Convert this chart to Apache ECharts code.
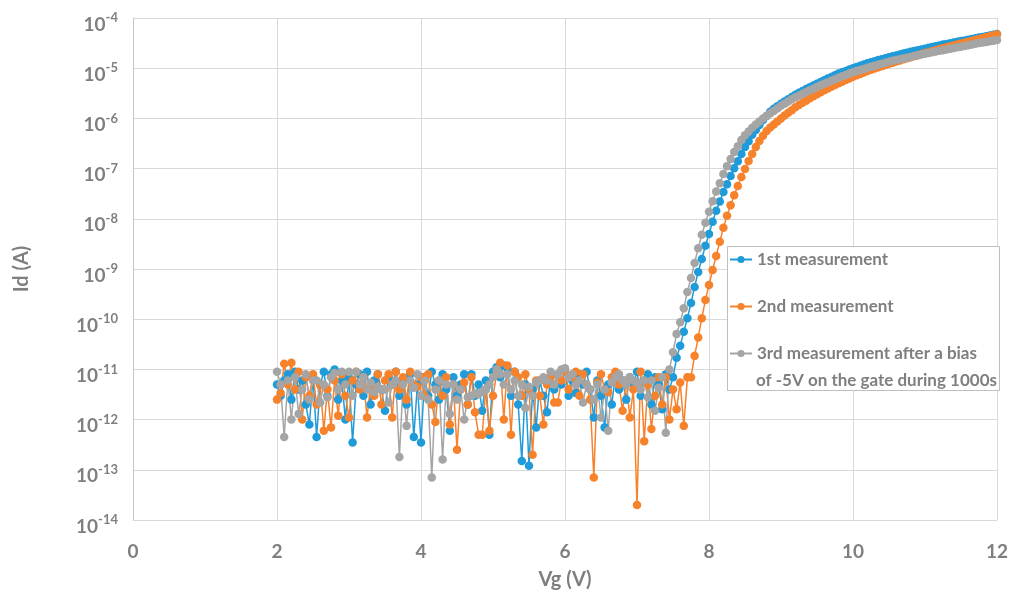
<!DOCTYPE html>
<html>
<head>
<meta charset="utf-8">
<script src="https://cdn.jsdelivr.net/npm/echarts@6/dist/echarts.min.js"></script>
<style>
html,body{margin:0;padding:0;background:#fff;}
#chart{width:1012px;height:600px;}
</style>
</head>
<body>
<div id="chart"></div>
<script>
// Gate voltage sweep (V)
const vg = [
2,2.05,2.1,2.15,2.2,2.25,2.3,2.35,2.4,2.45,2.5,2.55,2.6,2.65,2.7,2.75,2.8,2.85,2.9,2.95,
3,3.05,3.1,3.15,3.2,3.25,3.3,3.35,3.4,3.45,3.5,3.55,3.6,3.65,3.7,3.75,3.8,3.85,3.9,3.95,
4,4.05,4.1,4.15,4.2,4.25,4.3,4.35,4.4,4.45,4.5,4.55,4.6,4.65,4.7,4.75,4.8,4.85,4.9,4.95,
5,5.05,5.1,5.15,5.2,5.25,5.3,5.35,5.4,5.45,5.5,5.55,5.6,5.65,5.7,5.75,5.8,5.85,5.9,5.95,
6,6.05,6.1,6.15,6.2,6.25,6.3,6.35,6.4,6.45,6.5,6.55,6.6,6.65,6.7,6.75,6.8,6.85,6.9,6.95,
7,7.05,7.1,7.15,7.2,7.25,7.3,7.35,7.4,7.45,7.5,7.55,7.6,7.65,7.7,7.75,7.8,7.85,7.9,7.95,
8,8.05,8.1,8.15,8.2,8.25,8.3,8.35,8.4,8.45,8.5,8.55,8.6,8.65,8.7,8.75,8.8,8.85,8.9,8.95,
9,9.05,9.1,9.15,9.2,9.25,9.3,9.35,9.4,9.45,9.5,9.55,9.6,9.65,9.7,9.75,9.8,9.85,9.9,9.95,
10,10.05,10.1,10.15,10.2,10.25,10.3,10.35,10.4,10.45,10.5,10.55,10.6,10.65,10.7,10.75,10.8,10.85,10.9,10.95,
11,11.05,11.1,11.15,11.2,11.25,11.3,11.35,11.4,11.45,11.5,11.55,11.6,11.65,11.7,11.75,11.8,11.85,11.9,11.95,
12];

// Id (A), 1st measurement
const id1 = [
5e-12,3e-12,6e-12,8e-12,2.5e-12,9e-12,4e-12,6e-12,2e-12,8e-13,
7e-12,4.5e-13,5e-12,9e-12,3e-12,8e-12,1e-11,2.5e-12,6e-12,1e-12,
7e-12,3.5e-13,5e-12,8e-12,3e-12,9e-12,2e-12,6e-12,8e-12,4e-12,
1.5e-12,7e-12,5e-12,9e-12,3e-12,6e-12,2e-12,8e-12,4.5e-13,5e-12,
3.5e-13,7e-12,3e-12,9e-12,5e-12,2.5e-12,8e-12,4e-12,6e-13,7e-12,
3e-12,5e-12,8e-12,2e-12,8e-12,3e-12,5e-12,1.5e-12,6e-12,5e-13,
9e-12,1.1e-11,7e-12,1.2e-11,1.05e-11,3e-12,9e-12,2e-12,1.5e-13,5e-12,
1.2e-13,4e-12,7e-13,6e-12,3e-12,1.4e-12,7e-12,4e-12,8e-12,5e-12,
9e-12,3e-12,6e-12,3.4e-12,8e-12,5e-12,9e-12,4e-12,1.1e-12,6e-12,
3e-12,7e-13,5e-12,2e-12,8e-12,4e-12,6e-12,2.5e-12,7e-12,5e-12,
9e-12,3e-12,6e-12,8e-12,2e-12,7e-12,5e-12,1.6e-12,8e-12,4e-12,
7e-12,1.7e-11,2.95e-11,5.6e-11,1.05e-10,2.1e-10,4.4e-10,8.7e-10,1.58e-9,2.9e-9,
5e-9,8.7e-9,1.45e-8,2.2e-8,3.4e-8,4.9e-8,7.1e-8,1.02e-7,1.4e-7,1.95e-7,
2.7e-7,3.5e-7,4.7e-7,5.9e-7,7.4e-7,9.3e-7,1.12e-6,1.35e-6,1.55e-6,1.74e-6,
1.95e-6,2.16e-6,2.4e-6,2.66e-6,2.95e-6,3.24e-6,3.5e-6,3.85e-6,4.17e-6,4.5e-6,
4.9e-6,5.3e-6,5.75e-6,6.2e-6,6.7e-6,7.2e-6,7.8e-6,8.3e-6,8.8e-6,9.4e-6,
1e-5,1.06e-5,1.12e-5,1.18e-5,1.25e-5,1.32e-5,1.38e-5,1.45e-5,1.51e-5,1.58e-5,
1.66e-5,1.73e-5,1.8e-5,1.88e-5,1.96e-5,2.04e-5,2.12e-5,2.2e-5,2.28e-5,2.37e-5,
2.45e-5,2.55e-5,2.64e-5,2.74e-5,2.84e-5,2.95e-5,3.05e-5,3.15e-5,3.25e-5,3.36e-5,
3.47e-5,3.58e-5,3.7e-5,3.82e-5,3.94e-5,4.07e-5,4.2e-5,4.35e-5,4.49e-5,4.63e-5,
4.79e-5];

// Id (A), 2nd measurement
const id2 = [
2.5e-12,3.4e-12,1.3e-11,5e-12,1.35e-11,4e-12,9e-12,1e-12,7e-12,3e-12,
8e-12,2e-12,5e-12,6e-13,4e-12,7e-13,6e-12,1.2e-12,8e-12,3e-12,
1.1e-12,6e-12,9e-12,4e-12,7e-12,1.1e-12,5e-12,3e-12,8e-12,2e-12,
6e-12,8e-12,1.1e-12,9e-12,4e-12,7e-12,2.5e-12,9e-12,5e-12,4.5e-12,
7e-12,3e-12,8e-12,2e-12,9e-13,6e-12,3e-12,7e-12,8e-13,5e-12,
2.5e-13,4e-12,5.5e-12,2e-12,7e-12,1.4e-12,5e-13,5e-13,4e-12,6e-13,
3e-12,8e-12,1.35e-11,1e-12,1.2e-11,5e-13,9e-12,7e-12,3e-12,8e-12,
4e-12,2e-13,6e-12,3e-12,8e-13,5e-12,7e-12,2.2e-12,2.2e-12,6e-12,
9e-12,4e-12,7e-12,9e-12,3e-12,8e-12,5e-12,2.5e-12,7e-14,5.5e-12,
8e-12,4e-12,3.5e-12,7e-12,9e-12,5e-12,1.5e-12,6e-12,1.1e-12,4e-12,
2e-14,9e-12,3.7e-13,5e-12,6.5e-13,3e-12,7e-12,2e-12,7e-12,1e-12,
4e-12,1.6e-12,5.5e-12,7.5e-13,7e-12,7e-12,1.86e-11,4.3e-11,1.05e-10,2.4e-10,
4.8e-10,9.5e-10,1.82e-9,3.5e-9,6.6e-9,1.15e-8,1.86e-8,2.95e-8,4.5e-8,6.8e-8,
9.8e-8,1.41e-7,1.95e-7,2.7e-7,3.55e-7,4.5e-7,5.6e-7,6.6e-7,7.6e-7,8.7e-7,
1e-6,1.14e-6,1.29e-6,1.46e-6,1.66e-6,1.84e-6,2.04e-6,2.26e-6,2.51e-6,2.75e-6,
3.02e-6,3.31e-6,3.63e-6,3.94e-6,4.27e-6,4.62e-6,5.01e-6,5.4e-6,5.82e-6,6.27e-6,
6.76e-6,7.21e-6,7.69e-6,8.2e-6,8.75e-6,9.33e-6,9.86e-6,1.04e-5,1.1e-5,1.16e-5,
1.23e-5,1.29e-5,1.36e-5,1.43e-5,1.51e-5,1.58e-5,1.66e-5,1.74e-5,1.82e-5,1.91e-5,
2e-5,2.09e-5,2.19e-5,2.29e-5,2.4e-5,2.51e-5,2.62e-5,2.73e-5,2.84e-5,2.96e-5,
3.09e-5,3.22e-5,3.36e-5,3.5e-5,3.65e-5,3.8e-5,3.96e-5,4.13e-5,4.31e-5,4.49e-5,
4.68e-5];

// Id (A), 3rd measurement after a bias of -5V on the gate during 1000s
const id3 = [
9e-12,5e-12,4.5e-13,6e-12,1e-12,7e-12,1.3e-12,4e-12,8e-12,2.5e-12,
6e-12,6e-12,2.2e-12,5e-12,2.8e-12,7e-12,8.5e-12,4e-12,9e-12,5e-12,
9e-12,3e-12,9e-12,5e-12,7e-12,4e-12,5.5e-12,3.5e-12,4.5e-12,4e-12,
4e-12,2.2e-12,5e-12,6e-12,1.8e-13,5e-12,7.5e-13,6e-12,4.3e-12,8e-12,
3e-12,6e-12,2.5e-12,7e-14,4e-12,6e-12,1.6e-13,5e-12,1.3e-12,5e-12,
2.5e-12,4e-12,1e-12,2.8e-12,3e-12,3.3e-12,3.2e-12,3.6e-12,4e-12,5e-12,
7e-12,1e-11,8e-12,5e-12,8e-12,4e-12,6e-12,3e-12,5e-12,1.7e-12,
4.5e-12,3e-12,5.5e-12,6e-12,7e-12,6e-12,9e-12,5e-12,8e-12,1e-11,
1.05e-11,7e-12,8e-12,5e-12,6e-12,2.2e-12,5e-12,4e-12,2.5e-12,5e-12,
1.1e-12,4e-12,6e-13,5.5e-12,7e-12,8e-12,6e-12,5e-12,7e-12,6e-12,
5.5e-12,4e-12,6e-12,2.8e-12,6e-12,1.5e-12,4.3e-12,7e-12,5.5e-13,1e-11,
2.2e-11,5.1e-11,8.7e-11,1.66e-10,3.5e-10,6.6e-10,1.32e-9,2.6e-9,4.8e-9,8.3e-9,
1.38e-8,2.24e-8,3.5e-8,5.1e-8,7.8e-8,1.12e-7,1.55e-7,2.14e-7,2.8e-7,3.7e-7,
4.6e-7,5.5e-7,6.5e-7,7.6e-7,8.7e-7,1e-6,1.12e-6,1.26e-6,1.41e-6,1.58e-6,
1.78e-6,1.95e-6,2.16e-6,2.4e-6,2.63e-6,2.85e-6,3.09e-6,3.35e-6,3.63e-6,3.89e-6,
4.22e-6,4.57e-6,4.9e-6,5.25e-6,5.62e-6,6.03e-6,6.46e-6,6.92e-6,7.33e-6,7.85e-6,
8.32e-6,8.75e-6,9.2e-6,9.68e-6,1.02e-5,1.07e-5,1.12e-5,1.17e-5,1.23e-5,1.29e-5,
1.35e-5,1.4e-5,1.45e-5,1.51e-5,1.56e-5,1.62e-5,1.68e-5,1.75e-5,1.81e-5,1.88e-5,
1.95e-5,2.01e-5,2.08e-5,2.15e-5,2.22e-5,2.29e-5,2.37e-5,2.44e-5,2.52e-5,2.61e-5,
2.69e-5,2.78e-5,2.87e-5,2.96e-5,3.06e-5,3.16e-5,3.25e-5,3.34e-5,3.44e-5,3.53e-5,
3.63e-5];

const seriesNames = [
  '1st measurement',
  '2nd measurement',
  '3rd measurement after a bias of -5V on the gate during 1000s'
];
const legendLines = {
  '1st measurement': '1st measurement',
  '2nd measurement': '2nd measurement',
  '3rd measurement after a bias of -5V on the gate during 1000s': '3rd measurement after a bias'
};
const legendContinuation = 'of -5V on the gate during 1000s';
const xTitle = 'Vg (V)';
const yTitle = 'Id (A)';

const FONT = 'Lato';
const TXT = '#7f7f7f';
const colors = ['#1f9bd9', '#f7822c', '#a5a5a5'];

function pairs(ys) { return vg.map((v, i) => [v, ys[i]]); }

const chart = echarts.init(document.getElementById('chart'), null, {renderer: 'canvas'});
const mk = (name, ys, c) => ({
  name: name, type: 'line', data: pairs(ys),
  symbol: 'circle', symbolSize: 8.5, showSymbol: true,
  lineStyle: {color: c, width: 1.5},
  itemStyle: {color: c},
  emphasis: {disabled: true},
  animation: false
});

chart.setOption({
  animation: false,
  backgroundColor: '#ffffff',
  color: colors,
  grid: {left: 133, right: 15, top: 18, bottom: 80},
  xAxis: {
    type: 'value', min: 0, max: 12, interval: 2,
    name: xTitle, nameLocation: 'middle', nameGap: 50,
    nameTextStyle: {fontSize: 20, fontWeight: 'bold', color: TXT, fontFamily: FONT},
    axisLabel: {fontSize: 19, fontWeight: 'bold', color: TXT, fontFamily: FONT, margin: 22},
    axisLine: {onZero: false, lineStyle: {color: '#d9d9d9', width: 1}},
    axisTick: {show: false},
    splitLine: {show: true, lineStyle: {color: '#d9d9d9', width: 1}}
  },
  yAxis: {
    type: 'log', logBase: 10, min: 1e-14, max: 1e-4, interval: 1, splitNumber: 10,
    name: yTitle, nameLocation: 'middle', nameGap: 101, nameRotate: 90,
    nameTextStyle: {fontSize: 20, fontWeight: 'bold', color: TXT, fontFamily: FONT},
    axisLine: {show: true, lineStyle: {color: '#c9c9c9', width: 1}},
    axisTick: {show: false},
    splitLine: {show: true, lineStyle: {color: '#d9d9d9', width: 1}},
    axisLabel: {
      margin: 15,
      showMinLabel: true, showMaxLabel: true,
      formatter: function (val) {
        const e = Math.round(Math.log(val) / Math.LN10);
        return '{b|10}{s|' + e + '}';
      },
      rich: {
        b: {fontSize: 19, fontWeight: 'bold', color: TXT, fontFamily: FONT, lineHeight: 22, verticalAlign: 'bottom'},
        s: {fontSize: 13, fontWeight: 'bold', color: TXT, fontFamily: FONT, lineHeight: 32, verticalAlign: 'middle'}
      }
    }
  },
  legend: {
    orient: 'vertical', left: 729, top: 250, padding: 0,
    itemGap: 28, itemWidth: 22, itemHeight: 9,
    selectedMode: false,
    formatter: function (name) { return legendLines[name]; },
    textStyle: {fontSize: 17, fontWeight: 'bold', color: TXT, fontFamily: FONT, lineHeight: 19},
    data: seriesNames,
    z: 6
  },
  graphic: [
    {type: 'rect', z: 5, shape: {x: 727.5, y: 246.5, width: 272, height: 144},
     style: {fill: '#ffffff', stroke: '#bfbfbf', lineWidth: 1}},
    {type: 'text', z: 7, x: 756, y: 381,
     style: {text: legendContinuation, fontSize: 17, fontWeight: 'bold', fill: TXT, fontFamily: FONT,
             textVerticalAlign: 'middle', verticalAlign: 'middle'}}
  ],
  series: [
    mk(seriesNames[0], id1, colors[0]),
    mk(seriesNames[1], id2, colors[1]),
    mk(seriesNames[2], id3, colors[2])
  ]
});
</script>
</body>
</html>
